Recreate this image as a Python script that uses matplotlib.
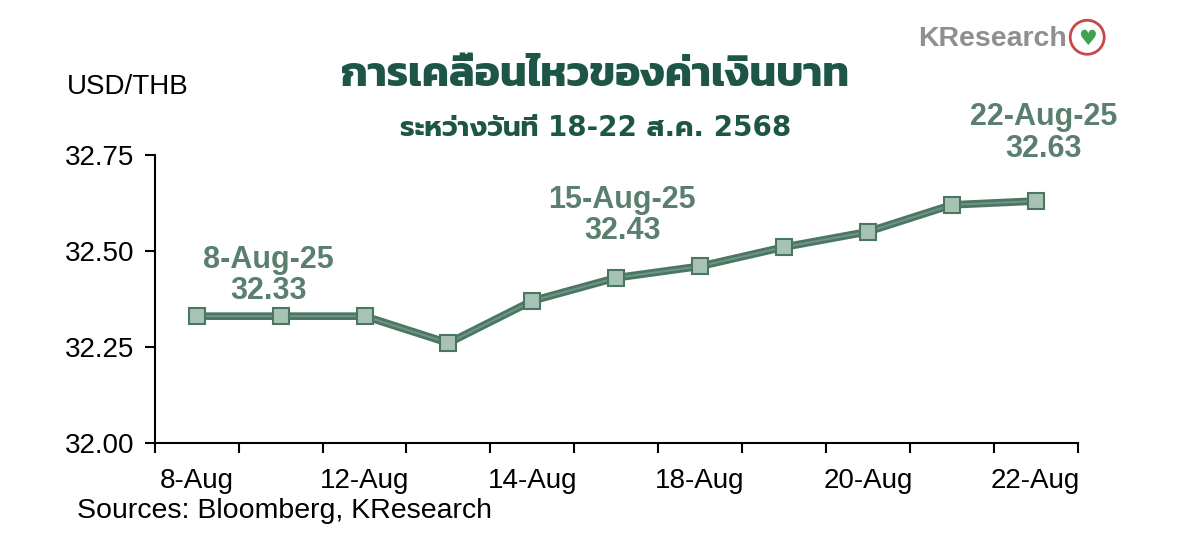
import numpy as np
import matplotlib
matplotlib.use("Agg")
import matplotlib.pyplot as plt
from matplotlib.patches import Ellipse

# baht movement, USD/THB
dates = ["8-Aug", "11-Aug", "12-Aug", "13-Aug", "14-Aug", "15-Aug",
         "18-Aug", "19-Aug", "20-Aug", "21-Aug", "22-Aug"]
rates = [32.33, 32.33, 32.33, 32.26, 32.37, 32.43,
         32.46, 32.51, 32.55, 32.62, 32.63]
yticks = [32.00, 32.25, 32.50, 32.75]
# points that carry a callout: index, callout date text
callouts = [(0, "8-Aug-25"), (5, "15-Aug-25"), (10, "22-Aug-25")]

title = "การเคลื่อนไหวของค่าเงินบาท"
subtitle = "ระหว่างวันที่ 18-22 ส.ค. 2568"
source = "Sources: Bloomberg, KResearch"

plt.rcParams['font.family'] = ['Liberation Sans', 'DejaVu Sans']

line_c = '#4b7664'
face_c = '#a8c3b4'
label_c = '#5b7f6f'
title_c = '#1d5647'

fig = plt.figure(figsize=(12, 5.4), dpi=100)
ax = fig.add_axes([0.129, 0.18, 0.769, 0.533])

x = np.arange(len(dates))
ax.plot(x, rates, '-', color=line_c, lw=5.5, solid_capstyle='butt', zorder=2)
ax.plot(x, rates, '-', color='#6f9483', lw=1.5, zorder=3)
ax.plot(x, rates, 's', ms=11, mfc=face_c, mec=line_c, mew=1.5, zorder=4)

offsets = {0: (72, 41), 5: (6, 62), 10: (8, 68)}
for i, d in callouts:
    ax.annotate(d + "\n" + f"{rates[i]:.2f}", xy=(i, rates[i]), xytext=offsets[i],
                textcoords='offset pixels', ha='center', va='center',
                fontsize=22, fontweight='bold', color=label_c, linespacing=1.05)

ax.set_ylim(32.0, 32.75)
ax.set_yticks(yticks)
ax.set_yticklabels([f"{v:.2f}" for v in yticks])
ax.set_xlim(-0.5, len(dates) - 0.5)
ax.set_xticks(np.arange(-0.5, len(dates), 1.0))
ax.set_xticklabels([])
ax.set_xticks(x[::2], minor=True)
ax.set_xticklabels(dates[::2], minor=True)
ax.tick_params(axis='x', which='major', length=7, width=1.5, direction='out')
ax.tick_params(axis='x', which='minor', length=0, pad=18, labelsize=20)
ax.tick_params(axis='y', length=7, width=1.5, direction='out', pad=8, labelsize=20)
for s in ['top', 'right']:
    ax.spines[s].set_visible(False)
for s in ['left', 'bottom']:
    ax.spines[s].set_linewidth(1.5)

fig.text(0.056, 0.838, "USD/THB", fontsize=20, va='center', ha='left')
fig.text(0.496, 0.858, title, fontsize=30.5, fontweight='bold', color=title_c,
         ha='center', va='center', family=['Kanit', 'DejaVu Sans'])
fig.text(0.496, 0.763, subtitle, fontsize=20, fontweight='bold', color=title_c,
         ha='center', va='center', family=['DejaVu Sans', 'Prompt'])
fig.text(0.064, 0.054, source, fontsize=20.5, va='center', ha='left')

# logo
fig.text(0.889, 0.928, "KResearch", fontsize=20.5, fontweight='bold', color='#8f8f8f',
         ha='right', va='center')
logo = Ellipse((0.906, 0.931), 34 / 1200, 34 / 540, transform=fig.transFigure,
               facecolor='white', edgecolor='#c8474a', lw=2)
fig.patches.append(logo)
fig.text(0.906, 0.928, "♥", fontsize=15, color='#3fa34d', ha='center', va='center',
         family=['DejaVu Sans'])

fig.savefig("out.png")
